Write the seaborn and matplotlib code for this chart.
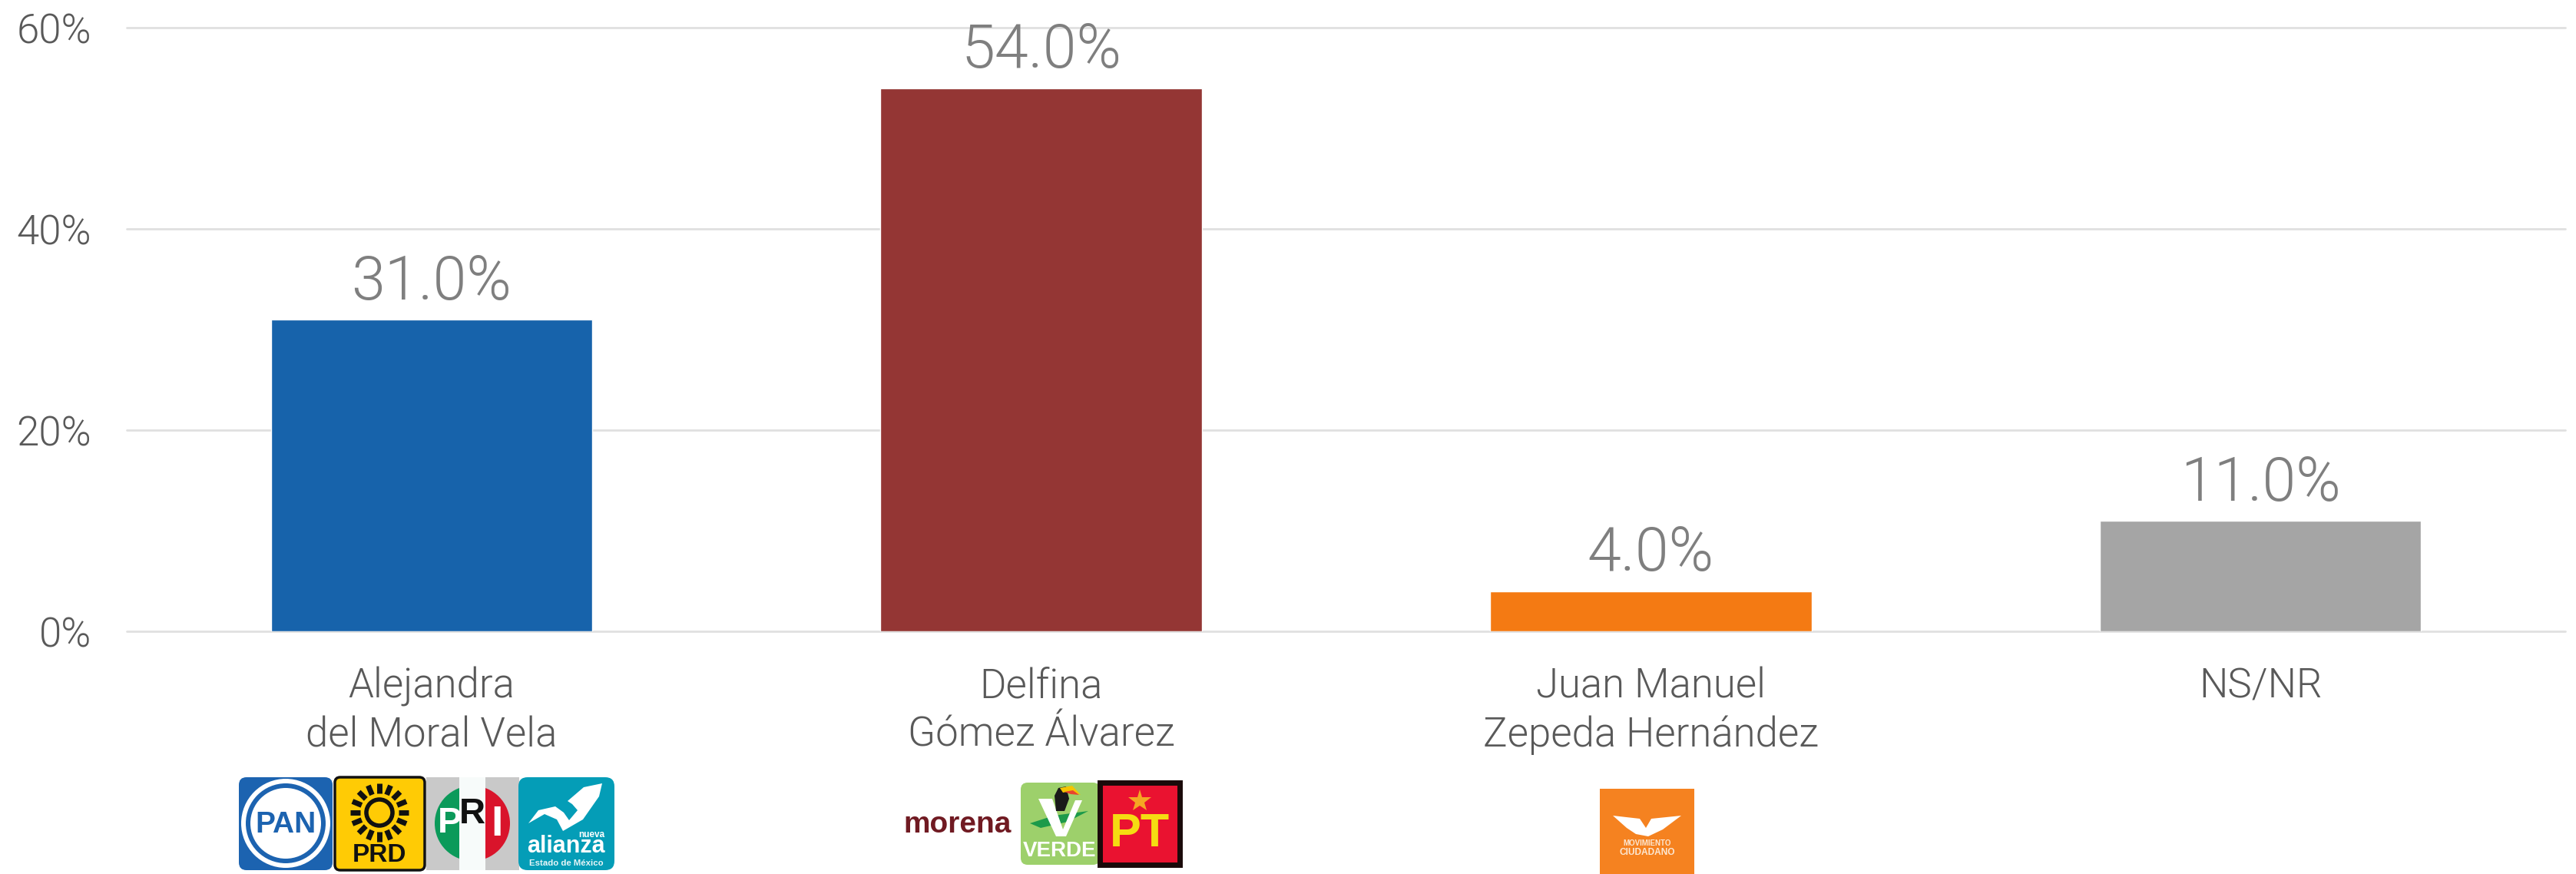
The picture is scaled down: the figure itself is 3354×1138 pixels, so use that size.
# Encuesta Edomex - bar chart with party logos
import numpy as np
import pandas as pd
import matplotlib.pyplot as plt
from matplotlib.patches import Circle, FancyBboxPatch, Polygon, Rectangle, Wedge
import seaborn as sns

# Data
candidates = ['Alejandra\ndel Moral Vela', 'Delfina\nGómez Álvarez',
              'Juan Manuel\nZepeda Hernández', 'NS/NR']
percents = [31.0, 54.0, 4.0, 11.0]
bar_colors = ['#1763AB', '#943634', '#F47A13', '#A5A5A5']
y_ticks = [0, 20, 40, 60]
y_tick_labels = ['0%', '20%', '40%', '60%']

sns.set_theme(style='white')
plt.rcParams['font.family'] = ['Roboto', 'Liberation Sans', 'DejaVu Sans']
plt.rcParams['font.weight'] = 300

W, H = 3355, 1138
fig = plt.figure(figsize=(W / 100, H / 100), dpi=100)
ax = fig.add_axes([165 / W, 1 - 822 / H, (3340 - 165) / W, (822 - 36) / H])

data = pd.DataFrame({'candidate': candidates, 'percent': percents})
sns.barplot(data=data, x='candidate', y='percent', hue='candidate', palette=bar_colors,
            width=0.527, legend=False, saturation=1, ax=ax, zorder=3)

ax.set_ylim(0, 60)
ax.set_xlim(-0.5, 3.5)
ax.set_yticks(y_ticks)
ax.set_yticklabels(y_tick_labels, fontsize=38, color='#595959')
ax.set_xlabel('')
ax.set_ylabel('')
ax.tick_params(axis='x', length=0, pad=33, labelsize=38, labelcolor='#595959')
ax.tick_params(axis='y', length=0, pad=33)
ax.yaxis.grid(True, color='#E0E0E0', linewidth=2)
ax.set_axisbelow(True)
sns.despine(ax=ax, left=True, bottom=True)
for line in ax.get_ygridlines():
    line.set_clip_on(False)
for t in ax.get_xticklabels():
    t.set_linespacing(1.3)

# Value labels
for x, v in enumerate(percents):
    ax.annotate(f'{v:.1f}%', (x, v), xytext=(0, 7), textcoords='offset points',
                ha='center', va='bottom', fontsize=57, color='#7F7F7F')

# Logos live on an overlay in pixel coordinates
lg = fig.add_axes([0, 0, 1, 1], zorder=5)
lg.set_xlim(0, W)
lg.set_ylim(H, 0)
lg.axis('off')
lg.patch.set_alpha(0)
BOLD = ['Liberation Sans', 'DejaVu Sans']


def box(x0, y0, x1, y1, color, r=8, **kw):
    lg.add_patch(FancyBboxPatch((x0 + r, y0 + r), x1 - x0 - 2 * r, y1 - y0 - 2 * r,
                                boxstyle=f'round,pad={r},rounding_size={r}',
                                fc=color, ec=kw.pop('ec', 'none'), **kw))


def word(x, y, s, size, color):
    lg.text(x, y, s, fontsize=size, color=color, family=BOLD, weight='bold',
            ha='center', va='center')


# PAN
box(311, 1012, 433, 1133, '#1C63B0', r=10)
lg.add_patch(Circle((372, 1072), 58, fc='white', ec='none'))
lg.add_patch(Circle((372, 1072), 52, fc='#1C63B0', ec='none'))
lg.add_patch(Circle((372, 1072), 46, fc='white', ec='none'))
word(372, 1074, 'PAN', 28, '#1C63B0')

# PRD
box(436, 1012, 553, 1133, '#FFCB05', r=7, ec='#111111', linewidth=2.5)
for a in np.arange(0, 360, 22.5):
    c, s = np.cos(np.radians(a)), np.sin(np.radians(a))
    lg.plot([494 + 25 * c, 494 + 38 * c], [1058 + 25 * s, 1058 + 38 * s],
            color='#111111', linewidth=5, solid_capstyle='butt')
lg.add_patch(Circle((494, 1058), 17, fc='none', ec='#111111', linewidth=4))
word(494, 1113, 'PRD', 24, '#111111')

# PRI
lg.add_patch(Rectangle((555, 1012), 121, 121, fc='#C9C9C9', ec='none'))
lg.add_patch(Wedge((615, 1072), 49, 90, 270, fc='#0B9A5A', ec='none'))
lg.add_patch(Wedge((615, 1072), 49, -90, 90, fc='#D9142B', ec='none'))
lg.add_patch(Rectangle((598, 1012), 34, 121, fc='#F7FBFA', ec='none'))
word(586, 1072, 'P', 34, 'white')
word(615, 1060, 'R', 34, '#111111')
word(647, 1074, 'I', 40, 'white')

# Nueva Alianza
box(675, 1012, 800, 1133, '#049DB7', r=12)
lg.add_patch(Polygon([(688, 1072), (701, 1055), (723, 1050), (734, 1058), (741, 1068),
                      (752, 1055), (745, 1047), (739, 1043), (760, 1025), (784, 1020),
                      (780, 1037), (759, 1067), (733, 1082), (725, 1067), (709, 1060)],
                     fc='white', ec='none'))
word(770, 1087, 'nueva', 8.5, 'white')
word(737, 1102, 'alianza', 22, 'white')
word(737, 1124, 'Estado de México', 8.2, '#E8F6F8')

# morena
word(1247, 1074, 'morena', 28, '#701A22')

# Verde
box(1329, 1019, 1432, 1126, '#9DD06B', r=9)
lg.add_patch(Polygon([(1341, 1072), (1372, 1062), (1417, 1056), (1390, 1070), (1355, 1078)],
                     fc='#1C9A4A', ec='none'))
lg.add_patch(Polygon([(1352, 1040), (1370, 1040), (1384, 1080), (1400, 1042), (1409, 1042),
                      (1388, 1089), (1375, 1089)], fc='white', ec='none'))
lg.add_patch(Polygon([(1375, 1056), (1373, 1036), (1378, 1026), (1388, 1024), (1392, 1040),
                      (1386, 1056)], fc='#1A1A1A', ec='none'))
lg.add_patch(Polygon([(1380, 1026), (1396, 1023), (1407, 1035), (1394, 1030), (1384, 1032)],
                     fc='#F5C400', ec='none'))
lg.add_patch(Polygon([(1386, 1031), (1397, 1029), (1405, 1035), (1394, 1034)],
                     fc='#E8432E', ec='none'))
word(1380, 1108, 'VERDE', 20, 'white')

# PT
lg.add_patch(Rectangle((1432, 1019), 104, 107, fc='#EA1230', ec='#1A0A0A', linewidth=5))
lg.plot([1484], [1043], marker='*', markersize=22, color='#F5A623', markeredgewidth=0)
word(1484, 1086, 'PT', 44, '#F5DC12')

# Movimiento Ciudadano
lg.add_patch(Rectangle((2083, 1027), 123, 111, fc='#F58220', ec='none'))
lg.add_patch(Polygon([(2100, 1062), (2135, 1066), (2143, 1078), (2150, 1066), (2189, 1062),
                      (2165, 1080), (2146, 1089), (2130, 1086), (2118, 1078)],
                     fc='white', ec='none'))
word(2145, 1098, 'MOVIMIENTO', 7, '#FCE8D4')
word(2145, 1110, 'CIUDADANO', 8.6, '#FCE8D4')

fig.savefig('out.png', dpi=100, facecolor='white')
